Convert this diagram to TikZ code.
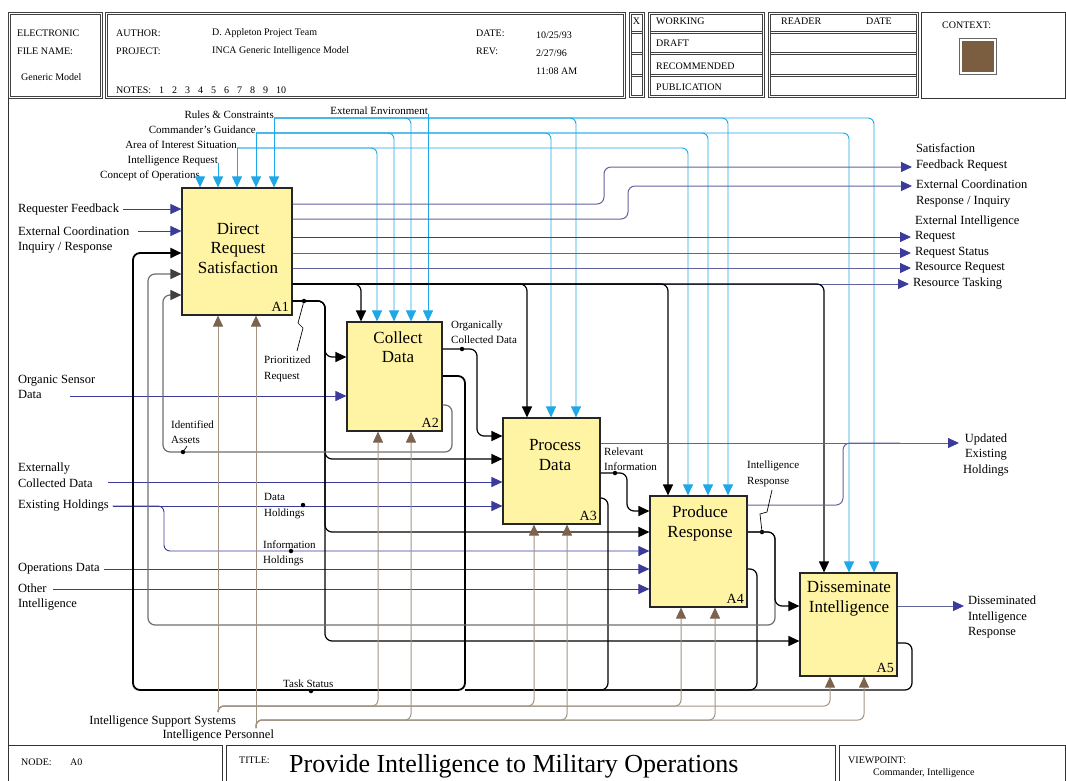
\documentclass[tikz,border=0pt]{standalone}
\usepackage{fontspec}
\setmainfont{Liberation Serif}
\usetikzlibrary{arrows.meta}

\definecolor{fnyellow}{HTML}{FFF4A3}
\definecolor{ctlblue}{HTML}{1FA8E8}
\definecolor{inpnavy}{HTML}{3B3B9C}
\definecolor{outslate}{HTML}{62629C}
\definecolor{mechline}{HTML}{A39484}
\definecolor{mechtip}{HTML}{7B634D}
\definecolor{fbgray}{HTML}{6E6E6E}
\definecolor{ctxbrown}{HTML}{7B5E40}

\begin{document}
\begin{tikzpicture}[
  x=1pt, y=-1pt,
  fbox/.style={rectangle, draw=black!85, fill=fnyellow, line width=1.1pt,
               inner sep=0pt},
  ftxt/.style={font=\fontsize{17}{19.5}\selectfont, align=center, inner sep=0pt},
  anum/.style={font=\fontsize{14}{16}\selectfont, anchor=south east, inner sep=3.5pt},
  htxt/.style={font=\fontsize{10}{12}\selectfont, anchor=west, inner sep=0pt},
  formrule/.style={draw=black!75, line width=0.7pt},
  sline/.style={draw=black!80, line width=0.9pt},
  ctllbl/.style={font=\fontsize{11}{13}\selectfont, anchor=base east, inner sep=0pt},
  lbl/.style={font=\fontsize{12.5}{15.5}\selectfont, align=left, inner sep=0pt,
              outer sep=4pt},
  sml/.style={font=\fontsize{11}{15.5}\selectfont, align=left, inner sep=0pt,
              anchor=west},
  jdot/.style={circle, fill=black, inner sep=0pt, minimum size=4.5pt},
  lead/.style={draw=black, line width=0.7pt},
  arr/.style={-{Triangle[length=11pt, width=10pt]}},
  ctl/.style={draw=ctlblue, line width=0.9pt, rounded corners=6pt, arr},
  inp/.style={draw=inpnavy, line width=0.9pt, rounded corners=6pt, arr},
  outp/.style={draw=outslate, line width=1pt, rounded corners=7pt,
               -{Triangle[length=11pt, width=10pt, color=inpnavy]}},
  fbk/.style={draw=black, line width=1.2pt, rounded corners=7pt, arr},
  fbg/.style={draw=fbgray, line width=1.2pt, rounded corners=7pt,
              -{Triangle[length=11pt, width=10pt, color=black!75]}},
  mech/.style={draw=mechline, line width=1pt, rounded corners=6pt,
               -{Triangle[length=11pt, width=10pt, color=mechtip]}}
]
\useasboundingbox (0,0) rectangle (1066,780);

% header form (double ruled)
\draw[formrule] (8,12) rectangle (102,98);
\draw[formrule] (10,14) rectangle (100,96);
\draw[formrule] (105,12) rectangle (625,98);
\draw[formrule] (107,14) rectangle (623,96);
\draw[formrule] (629,12) rectangle (644,97);
\draw[formrule] (631,14) rectangle (642,95);
\draw[formrule] (648,12) rectangle (764,97);
\draw[formrule] (650,14) rectangle (762,95);
\draw[formrule] (768,12) rectangle (918,97);
\draw[formrule] (770,14) rectangle (916,95);
\draw[formrule] (631,31) -- (642,31) (650,31) -- (762,31) (770,31) -- (916,31);
\draw[formrule] (631,33) -- (642,33) (650,33) -- (762,33) (770,33) -- (916,33);
\draw[formrule] (631,52) -- (642,52) (650,52) -- (762,52) (770,52) -- (916,52);
\draw[formrule] (631,54) -- (642,54) (650,54) -- (762,54) (770,54) -- (916,54);
\draw[formrule] (631,74) -- (642,74) (650,74) -- (762,74) (770,74) -- (916,74);
\draw[formrule] (631,76) -- (642,76) (650,76) -- (762,76) (770,76) -- (916,76);
\draw[sline] (921,12) rectangle (1065,98);
\draw[draw=black!60, fill=white, line width=0.8pt] (959,38) rectangle (996,74);
\fill[ctxbrown] (961.5,40.5) rectangle (993.5,71.5);

\node[htxt] (efn1) at (17,33) {ELECTRONIC};
\node[htxt] (efn2) at (17,51) {FILE NAME:};
\node[htxt] (efn3) at (21,77) {Generic Model};
\node[htxt] (auth) at (116,33) {AUTHOR:};
\node[htxt] (authv) at (212,33) {D. Appleton Project Team};
\node[htxt] (proj) at (116,51) {PROJECT:};
\node[htxt] (projv) at (212,51) {INCA Generic Intelligence Model};
\node[htxt] (notes) at (116,90) {NOTES:\hspace{8pt}1\hspace{8pt}2\hspace{8pt}3\hspace{8pt}4\hspace{8pt}5\hspace{8pt}6\hspace{8pt}7\hspace{8pt}8\hspace{8pt}9\hspace{8pt}10};
\node[htxt] (date) at (476,33) {DATE:};
\node[htxt] (datev) at (536,35) {10/25/93};
\node[htxt] (rev) at (476,51) {REV:};
\node[htxt] (revv) at (536,53) {2/27/96};
\node[htxt] (revt) at (536,71) {11:08 AM};
\node[htxt, anchor=center] (xmark) at (636.5,21) {X};
\node[htxt] (work) at (656,21) {WORKING};
\node[htxt] (draft) at (656,43) {DRAFT};
\node[htxt] (recom) at (656,66) {RECOMMENDED};
\node[htxt] (publ) at (656,87) {PUBLICATION};
\node[htxt] (reader) at (781,21) {READER};
\node[htxt] (rdate) at (866,21) {DATE};
\node[htxt] (ctx) at (942,25) {CONTEXT:};

% body frame and footer
\draw[sline] (8,98) -- (8,745);
\draw[sline] (8,745) rectangle (222,800);
\draw[sline] (226,745) rectangle (835,800);
\draw[sline] (839,745) rectangle (1065,800);
\node[htxt] (nodek) at (21,762) {NODE:};
\node[htxt] (nodev) at (70,762) {A0};
\node[htxt] (ttlk) at (239,760) {TITLE:};
\node[font=\fontsize{26}{30}\selectfont, anchor=base west, inner sep=0pt] (ttl)
  at (289,772) {Provide Intelligence to Military Operations};
\node[htxt] (vpk) at (848,760) {VIEWPOINT:};
\node[htxt] (vpv) at (873,773) {Commander, Intelligence};

% activity boxes
\node[fbox, minimum width=110pt, minimum height=127pt] (a1) at (237,251.5) {};
\node[fbox, minimum width=95pt, minimum height=109pt] (a2) at (394.5,376.5) {};
\node[fbox, minimum width=97pt, minimum height=106pt] (a3) at (551.5,471) {};
\node[fbox, minimum width=97pt, minimum height=111pt] (a4) at (698.5,551.5) {};
\node[fbox, minimum width=97pt, minimum height=103pt] (a5) at (848.5,624.5) {};

\node[ftxt] (a1t) at (238,248) {Direct\\Request\\Satisfaction};
\node[ftxt] (a2t) at (398,347) {Collect\\Data};
\node[ftxt] (a3t) at (555,455) {Process\\Data};
\node[ftxt] (a4t) at (700,523.5) {Produce\\Response};
\node[ftxt] (a5t) at (849,598.5) {Disseminate\\Intelligence};
\node[anum] (a1n) at (a1.south east) {A1};
\node[anum] (a2n) at (a2.south east) {A2};
\node[anum] (a3n) at (a3.south east) {A3};
\node[anum] (a4n) at (a4.south east) {A4};
\node[anum] (a5n) at (a5.south east) {A5};

% controls
\node[ctllbl] (rules) at (274,118) {Rules \& Constraints};
\node[ctllbl] (cmdg) at (256,133) {Commander's Guidance};
\node[ctllbl] (aois) at (237,148) {Area of Interest Situation};
\node[ctllbl] (intreq) at (218,163) {Intelligence Request};
\node[ctllbl] (conops) at (200,178) {Concept of Operations};
\node[ctllbl] (extenv) at (428,114) {External Environment};

\draw[ctl] (conops.base east) -- (conops.base east |- a1.north);
\draw[ctl] (intreq.base east) -- (intreq.base east |- a1.north);
\draw[ctl] (aois.base east) -- (aois.base east |- a1.north);
\draw[ctl] (aois.base east) -| (377,0 |- a2.north);
\draw[ctl] (aois.base east) -| (688,0 |- a4.north);
\draw[ctl] (cmdg.base east) -- (cmdg.base east |- a1.north);
\draw[ctl] (cmdg.base east) -| (394,0 |- a2.north);
\draw[ctl] (cmdg.base east) -| (551,0 |- a3.north);
\draw[ctl] (cmdg.base east) -| (708,0 |- a4.north);
\draw[ctl] (cmdg.base east) -| (849,0 |- a5.north);
\draw[ctl] (rules.base east) -- (rules.base east |- a1.north);
\draw[ctl] (rules.base east) -| (411,0 |- a2.north);
\draw[ctl] (rules.base east) -| (576,0 |- a3.north);
\draw[ctl] (rules.base east) -| (728,0 |- a4.north);
\draw[ctl] (rules.base east) -| (874,0 |- a5.north);
\draw[ctl] (extenv.base east) -- (extenv.base east |- a2.north);

% inputs
\node[lbl, anchor=west] (rqf) at (14,209) {Requester Feedback};
\node[lbl, anchor=west] (eci) at (14,240) {External Coordination\\Inquiry / Response};
\node[lbl, anchor=west] (osd) at (14,387) {Organic Sensor\\Data};
\node[lbl, anchor=west] (ecd) at (14,475) {Externally\\Collected Data};
\node[lbl, anchor=west] (exh) at (14,506) {Existing Holdings};
\node[lbl, anchor=west] (opd) at (14,569) {Operations Data};
\node[lbl, anchor=west] (oin) at (14,597) {Other\\Intelligence};
\coordinate (eciin) at (138,231);
\coordinate (osdin) at (70,396);
\coordinate (ecdin) at (108,482);
\coordinate (oinin) at (53,589);

\draw[inp] (rqf.east) -- (rqf.east -| a1.west);
\draw[inp] (eciin) -- (eciin -| a1.west);
\draw[inp] (osdin) -- (osdin -| a2.west);
\draw[inp] (ecdin) -- (ecdin -| a3.west);
\draw[inp] (exh.east) -- (exh.east -| a3.west);
\draw[inp] (exh.east) -- (164,506) -- (164,551) -- (a4.west |- 0,551);
\draw[inp] (opd.east) -- (opd.east -| a4.west);
\draw[inp] (oinin) -- (oinin -| a4.west);

\node[sml] (dhl) at (264,506) {Data\\Holdings};
\node[jdot] (dhd) at (303,505) {};
\node[sml] (ihl) at (263,553.5) {Information\\Holdings};
\node[jdot] (ihd) at (291,551) {};

% outputs of A1
\node[lbl, anchor=west] (sfr) at (912,157.5) {Satisfaction\\Feedback Request};
\node[lbl, anchor=west] (ecr) at (912,193.5) {External Coordination\\Response / Inquiry};
\node[lbl, anchor=west] (eir) at (911,229) {External Intelligence\\Request};
\node[lbl, anchor=west] (rst) at (911,253) {Request Status};
\node[lbl, anchor=west] (rrq) at (911,268) {Resource Request};
\node[lbl, anchor=west] (rtk) at (909,284) {Resource Tasking};

\draw[outp] (a1.east |- 0,204) -- (604,204) -- (604,167) -- (sfr.west |- 0,167);
\draw[outp] (a1.east |- 0,219) -- (628,219) -- (628,186) -- (ecr.west |- 0,186);
\draw[outp, draw=inpnavy] (a1.east |- 0,237) -- (eir.west |- 0,237);
\draw[outp] (a1.east |- rst.west) -- (rst.west);
\draw[outp] (a1.east |- rrq.west) -- (rrq.west);
\draw[outp] (a1.east |- rtk.west) -- (rtk.west);

% resource tasking to every activity
\draw[fbk] (a1.east |- 0,284) -| (361,0 |- a2.north);
\draw[fbk] (a1.east |- 0,284) -| (527,0 |- a3.north);
\draw[fbk] (a1.east |- 0,284) -| (668,0 |- a4.north);
\draw[fbk] (a1.east |- 0,284) -| (824,0 |- a5.north);

% prioritized request
\node[jdot] (prd) at (304,301) {};
\node[sml] (prl) at (264,369) {Prioritized\\Request};
\coordinate (prk) at (297,351);
\draw[lead] (prk) -- (303,328) -- (298,323) -- (prd);
\draw[fbk] (a1.east |- prd) -- (325,301) -- (325,357) -- (a2.west |- 0,357);
\draw[fbk] (a1.east |- prd) -- (325,301) -- (325,459) -- (a3.west |- 0,459);
\draw[fbk] (a1.east |- prd) -- (325,301) -- (325,532) -- (a4.west |- 0,532);
\draw[fbk] (a1.east |- prd) -- (325,301) -- (325,641) -- (a5.west |- 0,641);

% outputs of A2
\node[jdot] (ocd) at (462,349) {};
\node[sml] (ocl) at (451,332) {Organically\\Collected Data};
\draw[fbk] (a2.east |- ocd) -- (477,349) -- (477,436) -- (a3.west |- 0,436);
\draw[fbg] (a2.east |- 0,405) -- (452,405) -- (452,452) -- (163,452) -- (163,295)
  -- (a1.west |- 0,295);
\node[jdot] (iad) at (183,452) {};
\node[sml] (ial) at (171,432) {Identified\\Assets};
\draw[lead] (iad) -- ++(4,-6);

% task status loop
\draw[fbk, line width=1.8pt] (a2.east |- 0,376) -- (465,376) -- (465,690) -- (133,690)
  -- (133,253) -- (a1.west |- 0,253);
\coordinate (tsj) at (465,690);
\draw[fbk, -] (a3.east |- 0,498) -- (608,498) -- (608,690) -- (tsj);
\draw[fbk, -] (a4.east |- 0,569) -- (757,569) -- (757,690) -- (tsj);
\draw[fbk, -] (a5.east |- 0,643) -- (912,643) -- (912,690) -- (tsj);
\node[sml] (tsl) at (283,684) {Task Status};
\node[jdot] (tsd) at (311,691) {};

% outputs of A3
\node[lbl, anchor=west, align=center] (ueh) at (959,455) {Updated\\Existing\\Holdings};
\draw[outp] (a3.east |- 0,443) -- (ueh.west |- 0,443);
\node[jdot] (rid) at (615,473) {};
\node[sml] (ril) at (604,459) {Relevant\\Information};
\draw[fbk] (a3.east |- rid) -- (627,473) -- (627,511) -- (a4.west |- 0,511);

% outputs of A4
\coordinate (uej) at (900,443);
\draw[outp, -] (a4.east |- 0,505) -- (843,505) -- (843,443) -- (uej);
\node[jdot] (ird) at (762,532) {};
\node[sml] (irl) at (747,474) {Intelligence\\Response};
\coordinate (irk) at (772,490);
\draw[lead] (irk) -- (767,512) -- (760,514) -- (ird);
\draw[fbg] (a4.east |- ird) -- (775,532) -- (775,625) -- (148,625) -- (148,274)
  -- (a1.west |- 0,274);
\draw[fbk] (a4.east |- ird) -- (775,532) -- (775,606) -- (a5.west |- 0,606);

% output of A5
\node[lbl, anchor=west] (dir) at (964,617) {Disseminated\\Intelligence\\Response};
\draw[outp] (a5.east |- 0,606) -- (dir.west |- 0,606);

% mechanisms
\node[lbl, anchor=east] (iss) at (240,722) {Intelligence Support Systems};
\node[lbl, anchor=east] (ipl) at (278,736) {Intelligence Personnel};
\coordinate (issb) at (218,712);
\coordinate (ipb) at (256,728);
\draw[mech] (issb) -- (issb |- a1.south);
\draw[mech] (issb) -- (218,706) -| (378,0 |- a2.south);
\draw[mech] (issb) -- (218,706) -| (534,0 |- a3.south);
\draw[mech] (issb) -- (218,706) -| (681,0 |- a4.south);
\draw[mech] (issb) -- (218,706) -| (830,0 |- a5.south);
\draw[mech] (ipb) -- (ipb |- a1.south);
\draw[mech] (ipb) -- (256,720) -| (411,0 |- a2.south);
\draw[mech] (ipb) -- (256,720) -| (567,0 |- a3.south);
\draw[mech] (ipb) -- (256,720) -| (715,0 |- a4.south);
\draw[mech] (ipb) -- (256,720) -| (864,0 |- a5.south);
\end{tikzpicture}
\end{document}
